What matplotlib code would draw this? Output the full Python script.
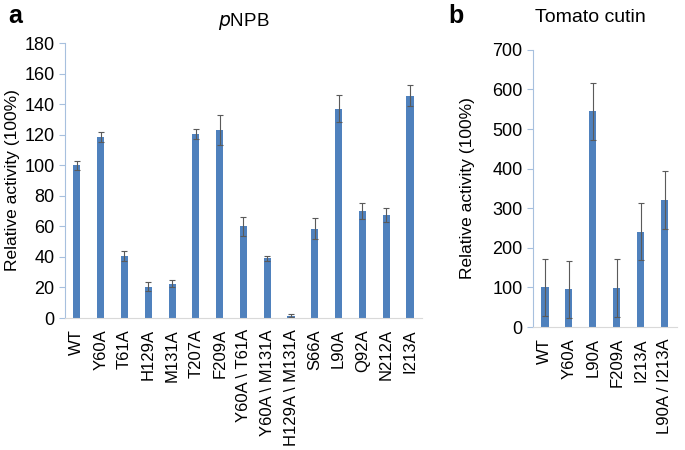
import numpy as np
import matplotlib
matplotlib.use("Agg")
import matplotlib.pyplot as plt

plt.rcParams['font.family'] = ['Liberation Sans', 'DejaVu Sans']

# panel a - pNPB
labels_a = ['WT', 'Y60A', 'T61A', 'H129A', 'M131A', 'T207A', 'F209A',
            'Y60A \\ T61A', 'Y60A \\ M131A', 'H129A \\ M131A', 'S66A',
            'L90A', 'Q92A', 'N212A', 'I213A']
vals_a = [100, 118.5, 40.5, 20.5, 22.5, 120.5, 123, 60, 39, 1.5, 58.5,
          137, 70, 67.5, 145.5]
err_a = [3, 3, 3.5, 3, 2.5, 3, 10, 6, 1.5, 1, 7, 9, 5.5, 4.5, 7]

# panel b - tomato cutin
labels_b = ['WT', 'Y60A', 'L90A', 'F209A', 'I213A', 'L90A / I213A']
vals_b = [100, 95, 545, 98, 240, 320]
err_b = [73, 72, 72, 73, 72, 73]

bar_col = '#4f81bd'
axis_col = '#a7c0de'


def style(ax, ymax, step):
    ax.set_ylim(0, ymax)
    ax.set_yticks(np.arange(0, ymax + 1, step))
    for s in ['top', 'right']:
        ax.spines[s].set_visible(False)
    ax.spines['left'].set_color(axis_col)
    ax.spines['bottom'].set_color('#d9d9d9')
    ax.tick_params(axis='y', colors=axis_col, labelcolor='black',
                   labelsize=13, length=4)
    ax.tick_params(axis='x', length=0, labelsize=12, pad=8)
    ax.set_ylabel('Relative activity (100%)', fontsize=12.5)


fig = plt.figure(figsize=(6.85, 4.5), dpi=100)

ax1 = fig.add_axes([0.0949, 0.2933, 0.521, 0.611])
x = np.arange(len(vals_a))
ax1.bar(x, vals_a, width=0.3, color=bar_col)
ax1.errorbar(x, vals_a, yerr=err_a, fmt='none', ecolor='#5a5a5a',
             elinewidth=0.8, capsize=2.5, capthick=0.8)
ax1.set_xlim(-0.5, len(vals_a) - 0.5)
ax1.set_xticks(x)
ax1.set_xticklabels(labels_a, rotation=90)
style(ax1, 180, 20)
ax1.yaxis.set_label_coords(-0.125, 0.5)
ax1.set_title('$\\it{p}$NPB', fontsize=13.5, pad=12)

ax2 = fig.add_axes([0.778, 0.2733, 0.21, 0.616])
x2 = np.arange(len(vals_b))
ax2.bar(x2, vals_b, width=0.3, color=bar_col)
ax2.errorbar(x2, vals_b, yerr=err_b, fmt='none', ecolor='#5a5a5a',
             elinewidth=0.8, capsize=2.5, capthick=0.8)
ax2.set_xlim(-0.5, len(vals_b) - 0.5)
ax2.set_xticks(x2)
ax2.set_xticklabels(labels_b, rotation=90)
style(ax2, 700, 100)
ax2.yaxis.set_label_coords(-0.4, 0.5)
ax2.set_title('Tomato cutin', fontsize=14, pad=20, x=0.4)

fig.text(0.012, 0.965, 'a', fontsize=18, fontweight='bold', va='center')
fig.text(0.655, 0.965, 'b', fontsize=18, fontweight='bold', va='center')

fig.savefig('out.png', dpi=100)
